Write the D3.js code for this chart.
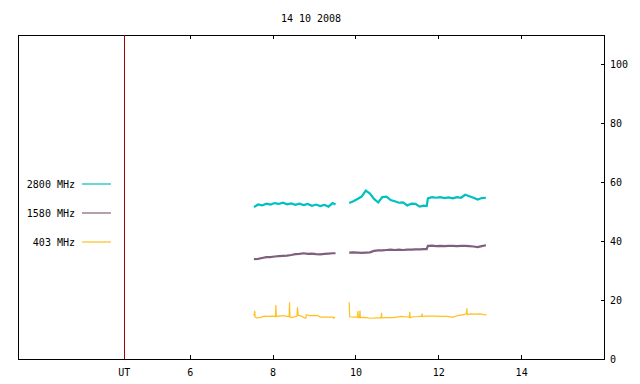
<!DOCTYPE html>
<html lang="en">
    <head>
        <meta charset="utf-8">
        <title>14 10 2008</title>
        <script type="text/javascript" src="https://cdn.jsdelivr.net/npm/d3@7"></script>
        <style type="text/css">
            body { margin: 0; background: #fff; }
            text { font-family: "DejaVu Sans Mono", monospace; font-size: 10px; fill: #000; }
        </style>
    </head>
    <body>
        <script type="text/javascript">

            //Width and height
            var w = 640;
            var h = 384;

            var title = "14 10 2008";
            var xTicks = [6, 8, 10, 12, 14];
            var yTicks = [0, 20, 40, 60, 80, 100];
            var utHour = 4.42;
            var seriesNames = ["2800 MHz", "1580 MHz", "403 MHz"];
            var seriesColors = ["#00c0c0", "#7f5f7f", "#ffc020"];

            // sample times (UT hours) for 2800 and 1580 MHz
            var t1 = [7.55, 7.65, 7.75, 7.85, 7.95, 8.05, 8.15, 8.25, 8.35, 8.45, 8.55, 8.65, 8.75, 8.85, 8.95, 9.05, 9.15, 9.25, 9.35, 9.45, 9.52];
            var t2 = [9.85, 9.95, 10.05, 10.15, 10.25, 10.35, 10.45, 10.55, 10.65, 10.75, 10.85, 10.95, 11.05, 11.15, 11.25, 11.35, 11.45, 11.55, 11.65, 11.72,
                      11.75, 11.85, 11.95, 12.05, 12.15, 12.25, 12.35, 12.45, 12.55, 12.65, 12.75, 12.85, 12.95, 13.05, 13.15];

            var f2800a = [51.4, 52.3, 52.0, 52.6, 52.3, 52.8, 52.5, 52.9, 52.4, 52.7, 52.2, 52.6, 52.1, 52.5, 51.9, 52.3, 51.8, 52.2, 51.6, 52.8, 52.3];
            var f2800b = [52.8, 53.4, 54.2, 55.0, 57.0, 56.0, 54.2, 53.0, 54.8, 55.0, 53.8, 53.4, 52.9, 53.0, 52.0, 52.6, 52.5, 51.6, 51.9, 51.8,
                          54.4, 54.8, 54.6, 54.8, 54.5, 54.7, 54.4, 54.8, 54.6, 55.6, 55.1, 54.6, 54.0, 54.5, 54.6];

            var f1580a = [33.8, 33.9, 34.2, 34.5, 34.5, 34.7, 34.8, 34.9, 35.0, 35.2, 35.5, 35.6, 35.8, 35.6, 35.7, 35.5, 35.4, 35.6, 35.7, 35.8, 35.8];
            var f1580b = [36.0, 36.1, 36.0, 35.9, 36.0, 36.1, 36.6, 36.8, 36.8, 36.9, 37.0, 36.9, 37.0, 36.9, 37.0, 37.0, 37.1, 37.1, 37.2, 37.2,
                          38.3, 38.4, 38.2, 38.3, 38.2, 38.3, 38.3, 38.2, 38.3, 38.3, 38.2, 38.1, 37.9, 38.2, 38.5];

            // 403 MHz has its own times because of the short spikes
            var g1 = [7.54, 7.56, 7.57, 7.58, 7.62, 7.70, 7.80, 7.90, 8.00, 8.07, 8.08, 8.09, 8.20, 8.30, 8.40, 8.41, 8.42, 8.46, 8.55, 8.59, 8.60, 8.62,
                      8.70, 8.78, 8.80, 8.82, 8.90, 9.00, 9.10, 9.15, 9.30, 9.45, 9.48, 9.50];
            var f403a = [15.2, 14.8, 16.3, 14.2, 13.9, 14.0, 14.5, 14.4, 14.5, 14.4, 18.3, 14.4, 14.6, 14.6, 14.3, 19.2, 14.3, 14.0, 14.4, 14.5, 17.5, 14.8,
                         14.5, 13.8, 13.8, 15.0, 14.7, 14.8, 14.7, 14.2, 14.2, 14.2, 13.8, 14.2];
            var g2 = [9.85, 9.86, 9.87, 9.95, 10.05, 10.06, 10.07, 10.10, 10.11, 10.12, 10.20, 10.30, 10.40, 10.50, 10.62, 10.63, 10.64, 10.75, 10.90,
                      11.00, 11.10, 11.20, 11.30, 11.31, 11.32, 11.40, 11.50, 11.60, 11.61, 11.62, 11.72, 11.90, 12.05, 12.20, 12.36, 12.50, 12.62,
                      12.68, 12.69, 12.70, 12.78, 12.90, 13.00, 13.10, 13.17];
            var f403b = [19.2, 14.3, 14.3, 14.2, 14.2, 16.2, 14.0, 14.0, 16.4, 14.0, 14.1, 13.9, 13.8, 13.9, 14.0, 15.6, 13.9, 14.0, 14.0,
                         14.2, 14.4, 14.3, 14.2, 16.0, 14.0, 14.3, 14.3, 14.5, 15.4, 14.4, 14.5, 14.5, 14.4, 14.4, 14.2, 14.8, 15.0,
                         15.4, 17.2, 15.0, 15.3, 15.2, 15.3, 15.0, 14.9];

            var segments = [
                { s: 0, t: t1, v: f2800a }, { s: 0, t: t2, v: f2800b },
                { s: 1, t: t1, v: f1580a }, { s: 1, t: t2, v: f1580b },
                { s: 2, t: g1, v: f403a }, { s: 2, t: g2, v: f403b }
            ];

            // plot frame
            var plotL = 18, plotR = 604, plotT = 35, plotB = 359;

            var x = d3.scaleLinear().domain([1.856, 16]).range([plotL, plotR]);
            var y = d3.scaleLinear().domain([0, 109.7]).range([plotB, plotT]);

            var svg = d3.select("body")
                        .append("svg")
                        .attr("width", w)
                        .attr("height", h);

            svg.append("text")
                .text(title)
                .attr("x", (plotL + plotR) / 2)
                .attr("y", 22)
                .attr("text-anchor", "middle");

            // bottom axis, ticks inward
            svg.append("g")
                .attr("transform", "translate(0," + plotB + ")")
                .call(d3.axisBottom(x).tickValues(xTicks).tickSize(-4).tickPadding(10).tickFormat(d3.format("d")))
                .call(function(g) {
                    g.select(".domain").remove();
                    g.selectAll("text").style("font-family", "DejaVu Sans Mono").style("font-size", "10px");
                });

            // top axis, ticks inward, no labels
            svg.append("g")
                .attr("transform", "translate(0," + plotT + ")")
                .call(d3.axisTop(x).tickValues(xTicks).tickSize(-4).tickFormat(""))
                .call(function(g) { g.select(".domain").remove(); });

            // right axis, ticks inward
            svg.append("g")
                .attr("transform", "translate(" + plotR + ",0)")
                .call(d3.axisRight(y).tickValues(yTicks).tickSize(-3).tickPadding(6))
                .call(function(g) {
                    g.select(".domain").remove();
                    g.selectAll("text").attr("dy", "0.35em").style("font-family", "DejaVu Sans Mono").style("font-size", "10px");
                });

            svg.selectAll(".tick line").attr("stroke", "#000").attr("shape-rendering", "crispEdges");

            svg.append("rect")
                .attr("x", plotL + 0.5)
                .attr("y", plotT + 0.5)
                .attr("width", plotR - plotL)
                .attr("height", plotB - plotT)
                .attr("fill", "none")
                .attr("stroke", "#000")
                .attr("stroke-width", 1)
                .attr("shape-rendering", "crispEdges");

            // UT marker
            svg.append("line")
                .attr("x1", x(utHour)).attr("x2", x(utHour))
                .attr("y1", plotT).attr("y2", plotB)
                .attr("stroke", "#a00000")
                .attr("stroke-width", 1)
                .attr("shape-rendering", "crispEdges");

            svg.append("text")
                .text("UT")
                .attr("x", x(utHour))
                .attr("y", plotB + 17)
                .attr("text-anchor", "middle");

            var line = d3.line()
                .x(function(d) { return x(d[0]); })
                .y(function(d) { return y(d[1]); });

            svg.selectAll("path.series")
                .data(segments)
                .enter()
                .append("path")
                .attr("class", "series")
                .attr("fill", "none")
                .attr("stroke", function(d) { return seriesColors[d.s]; })
                .attr("stroke-width", function(d) { return d.s == 2 ? 1.2 : 2.2; })
                .attr("d", function(d) { return line(d.t.map(function(t, i) { return [t, d.v[i]]; })); });

            // legend
            var legend = svg.selectAll("g.legend")
                .data(seriesNames)
                .enter()
                .append("g")
                .attr("class", "legend")
                .attr("transform", function(d, i) { return "translate(0," + (184 + i * 29) + ")"; });

            legend.append("text")
                .text(function(d) { return d; })
                .attr("x", 75)
                .attr("dy", "0.35em")
                .attr("text-anchor", "end");

            legend.append("line")
                .attr("x1", 82).attr("x2", 111)
                .attr("stroke", function(d, i) { return seriesColors[i]; })
                .attr("stroke-width", 1.2);

        </script>
    </body>
</html>
